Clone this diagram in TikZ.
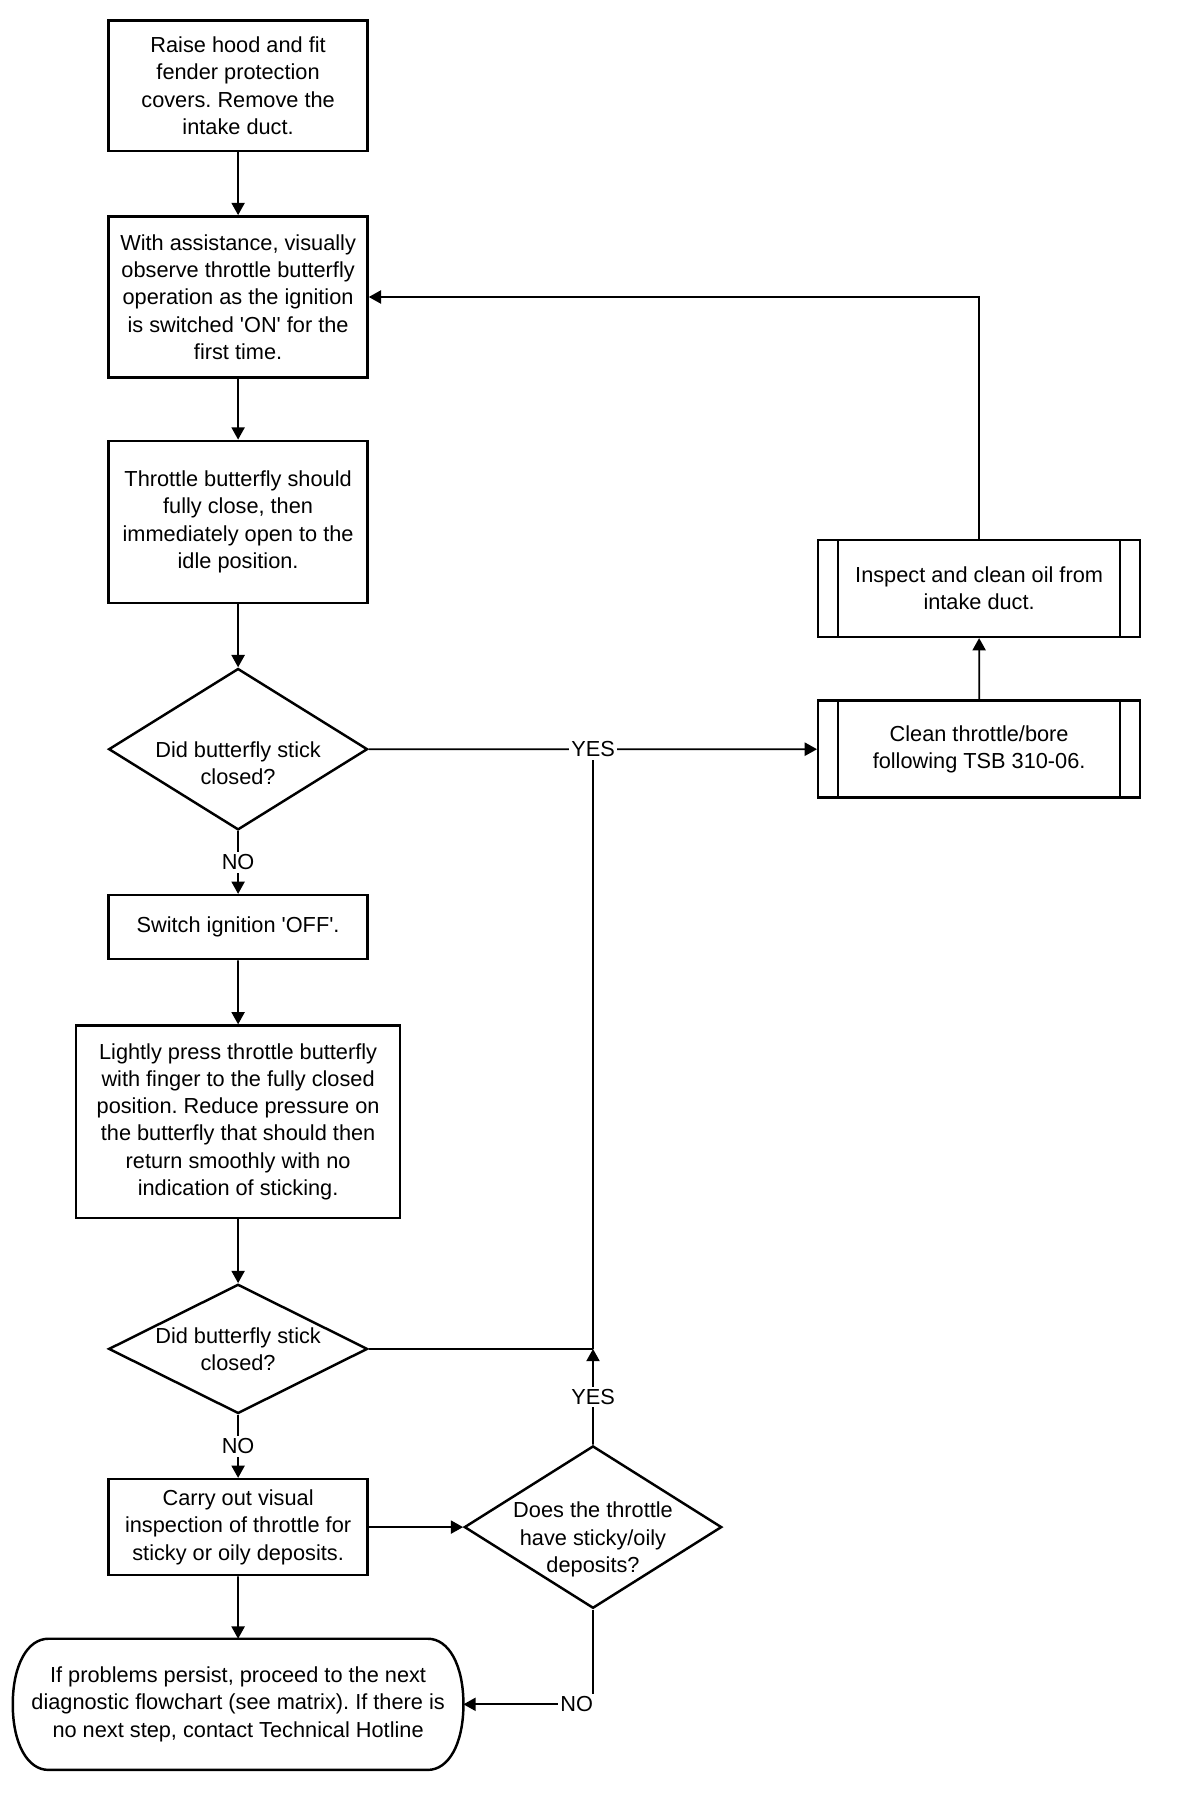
\documentclass[tikz,border=0pt]{standalone}
\usepackage{fontspec}
\setmainfont{Liberation Sans}
\usetikzlibrary{arrows.meta,shapes.geometric,positioning,calc}
\frenchspacing

\tikzset{
  flowtext/.style={font=\fontsize{12.5}{15.7}\selectfont, align=center},
  stepbox/.style={flowtext, draw, line width=1.4pt, minimum width=5.23cm, inner sep=2pt},
  decision/.style={draw, diamond, line width=1.4pt, minimum width=5.23cm, inner sep=0pt},
  subprocess/.style={flowtext, draw, line width=1.4pt, minimum width=6.5cm, minimum height=1.96cm,
    path picture={
      \draw[line width=1.4pt] ([xshift=0.4cm]path picture bounding box.north west) -- ([xshift=0.4cm]path picture bounding box.south west);
      \draw[line width=1.4pt] ([xshift=-0.4cm]path picture bounding box.north east) -- ([xshift=-0.4cm]path picture bounding box.south east);
    }},
  terminal/.style={flowtext, minimum width=9.09cm, minimum height=2.636cm},
  flowline/.style={line width=1pt},
  flowarrow/.style={flowline, -{Triangle[length=7pt,width=7.5pt]}},
  answer/.style={flowtext, fill=white, inner sep=1.5pt}
}

\begin{document}
\begin{tikzpicture}
    \useasboundingbox (0,0) rectangle (23.68,-35.88);
    \begin{scope}[scale=0.99, transform shape]

    % Main column
    \node[stepbox, minimum height=2.636cm] (hood) at (4.81,-1.734) {Raise hood and fit\\fender protection\\covers. Remove the\\intake duct.};
    \node[stepbox, minimum height=3.26cm] (observe) at (4.81,-6.0) {With assistance, visually\\observe throttle butterfly\\operation as the ignition\\is switched \textquotesingle ON\textquotesingle{} for the\\first time.};
    \node[stepbox, minimum height=3.28cm] (close) at (4.81,-10.545) {Throttle butterfly should\\fully close, then\\immediately open to the\\idle position.};
    \node[decision, minimum height=3.26cm] (stick1) at (4.81,-15.135) {};
    \node[flowtext] (stick1txt) at ([yshift=-0.28cm]stick1.center) {Did butterfly stick\\closed?};
    \node[stepbox, minimum height=1.295cm] (off) at (4.81,-18.73) {Switch ignition \textquotesingle OFF\textquotesingle.};
    \node[stepbox, minimum width=6.54cm, minimum height=3.885cm] (press) at (4.81,-22.66) {Lightly press throttle butterfly\\with finger to the fully closed\\position. Reduce pressure on\\the butterfly that should then\\return smoothly with no\\indication of sticking.};
    \node[decision, minimum height=2.61cm] (stick2) at (4.81,-27.25) {};
    \node[flowtext] (stick2txt) at (stick2.center) {Did butterfly stick\\closed?};
    \node[stepbox, minimum height=1.94cm] (visual) at (4.81,-30.85) {Carry out visual\\inspection of throttle for\\sticky or oily deposits.};
    \node[terminal] (persist) at (4.81,-34.43) {If problems persist, proceed to the next\\diagnostic flowchart (see matrix). If there is\\no next step, contact Technical Hotline};
    \draw[line width=1.4pt] ($(persist.north west)+(0.72,0)$) -- ($(persist.north east)+(-0.72,0)$)
        .. controls ($(persist.north east)+(-0.3,0)$) and ($(persist.east)+(0,0.8)$) .. (persist.east)
        .. controls ($(persist.east)+(0,-0.8)$) and ($(persist.south east)+(-0.3,0)$) .. ($(persist.south east)+(-0.72,0)$)
        -- ($(persist.south west)+(0.72,0)$)
        .. controls ($(persist.south west)+(0.3,0)$) and ($(persist.west)+(0,-0.8)$) .. (persist.west)
        .. controls ($(persist.west)+(0,0.8)$) and ($(persist.north west)+(0.3,0)$) .. cycle;

    % Right branch
    \node[decision, minimum width=5.2cm, minimum height=3.28cm] (deposits) at (11.98,-30.85) {};
    \node[flowtext] (depositstxt) at ([yshift=-0.25cm]deposits.center) {Does the throttle\\have sticky/oily\\deposits?};
    \node[subprocess] (oil) at (19.78,-11.886) {Inspect and clean oil from\\intake duct.};
    \node[subprocess] (bore) at (19.78,-15.135) {Clean throttle/bore\\following TSB 310-06.};
    \coordinate (join) at (deposits.north |- stick2.east);
    \coordinate (yesturn) at (deposits.north |- stick1.east);

    % Connectors
    \draw[flowarrow] (hood) -- (observe);
    \draw[flowarrow] (observe) -- (close);
    \draw[flowarrow] (close) -- (stick1);
    \draw[flowarrow] (stick1) -- node[answer] {NO} (off);
    \draw[flowarrow] (off) -- (press);
    \draw[flowarrow] (press) -- (stick2);
    \draw[flowarrow] (stick2) -- node[answer] {NO} (visual);
    \draw[flowarrow] (visual) -- (persist);
    \draw[flowarrow] (visual) -- (deposits);
    \draw[flowline] (stick2.east) -- (join);
    \draw[flowline] (join) -- (yesturn);
    \draw[flowarrow] (deposits.north) -- node[answer] {YES} (join);
    \draw[flowarrow] (stick1.east) -- (yesturn) node[answer] {YES} -- (bore.west);
    \draw[flowarrow] (bore) -- (oil);
    \draw[flowarrow] (oil.north) |- (observe.east);
    \draw[flowarrow] (deposits.south) |- node[answer, pos=0.5, anchor=east, xshift=2pt] {NO} (persist.east);
    \end{scope}
\end{tikzpicture}
\end{document}
